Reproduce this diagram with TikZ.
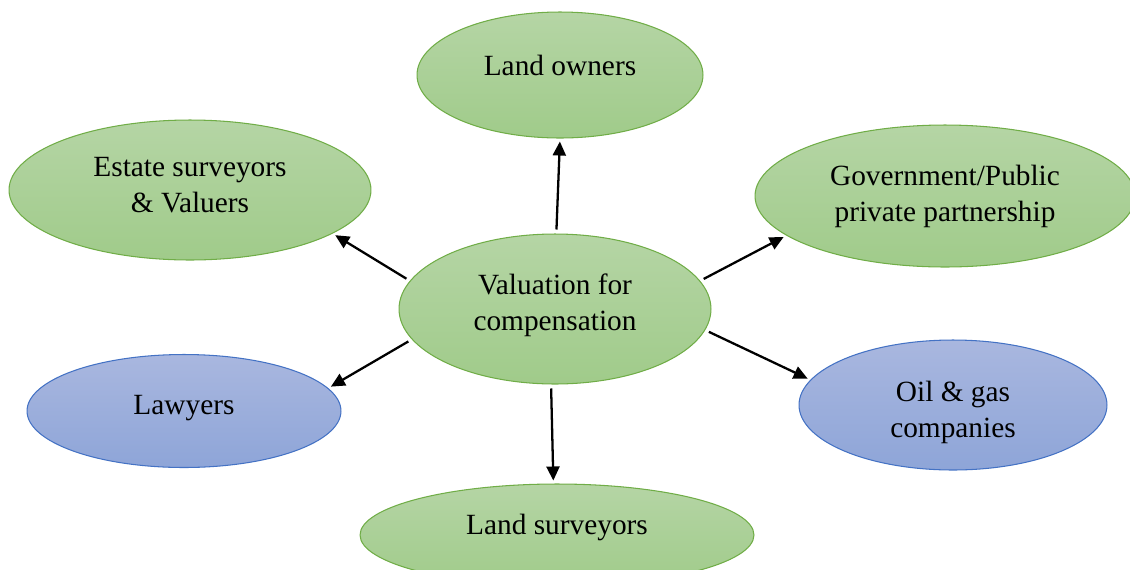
\documentclass[tikz,border=0pt]{standalone}
\usepackage{fontspec}
\setmainfont{Liberation Serif}
\usepackage{tikz}
\usetikzlibrary{shapes.geometric}
\usetikzlibrary{arrows.meta}

\definecolor{grtop}{HTML}{B5D5A5}
\definecolor{grbot}{HTML}{A0CB8A}
\definecolor{grline}{HTML}{70AD47}
\definecolor{bltop}{HTML}{A9B7DF}
\definecolor{blbot}{HTML}{8EA5D8}
\definecolor{blline}{HTML}{4472C4}

\begin{document}
\begin{tikzpicture}[x=0.02cm, y=-0.02cm,
    greenell/.style={ellipse, draw=grline, line width=0.6pt, top color=grtop, bottom color=grbot,
      align=center, inner sep=0pt, font=\fontsize{16.7}{20.5}\selectfont},
    blueell/.style={greenell, draw=blline, top color=bltop, bottom color=blbot},
    arr/.style={line width=1.3pt, -{Triangle[length=0.28cm,width=0.26cm]}, shorten <=0.08cm, shorten >=0.06cm}]
      \useasboundingbox (0,0) rectangle (1130,569);

      %draw ellipses
      \node[greenell, minimum width=6.24cm, minimum height=3.0cm, text depth=0.29cm] (val) at (555,309) {Valuation for\\compensation};
      \node[greenell, minimum width=5.72cm, minimum height=2.52cm, text depth=0.4cm] (own) at (560,75) {Land owners};
      \node[greenell, minimum width=7.24cm, minimum height=2.8cm, text depth=0.2cm] (est) at (190,190) {Estate surveyors\\\& Valuers};
      \node[greenell, minimum width=7.6cm, minimum height=2.84cm] (gov) at (945,196) {Government/Public\\private partnership};
      \node[blueell, minimum width=6.28cm, minimum height=2.26cm, text depth=0.25cm] (law) at (184,411) {Lawyers};
      \node[blueell, minimum width=6.16cm, minimum height=2.6cm, text height=1.44cm] (oil) at (953,405) {Oil \& gas\\companies};
      \node[greenell, minimum width=7.88cm, minimum height=2.04cm, text depth=0.41cm] (sur) at (557,535) {Land surveyors};

      %draw arrows
      \draw[arr] (val.89) -- (own.-90);
      \draw[arr] (val.169) -- (est.-17);
      \draw[arr] (val.11) -- (gov.-166);
      \draw[arr] (val.-168) -- (law.9);
      \draw[arr] (val.-8) -- (oil.170);
      \draw[arr] (val.-93) -- (sur.94);
    \end{tikzpicture}
\end{document}
